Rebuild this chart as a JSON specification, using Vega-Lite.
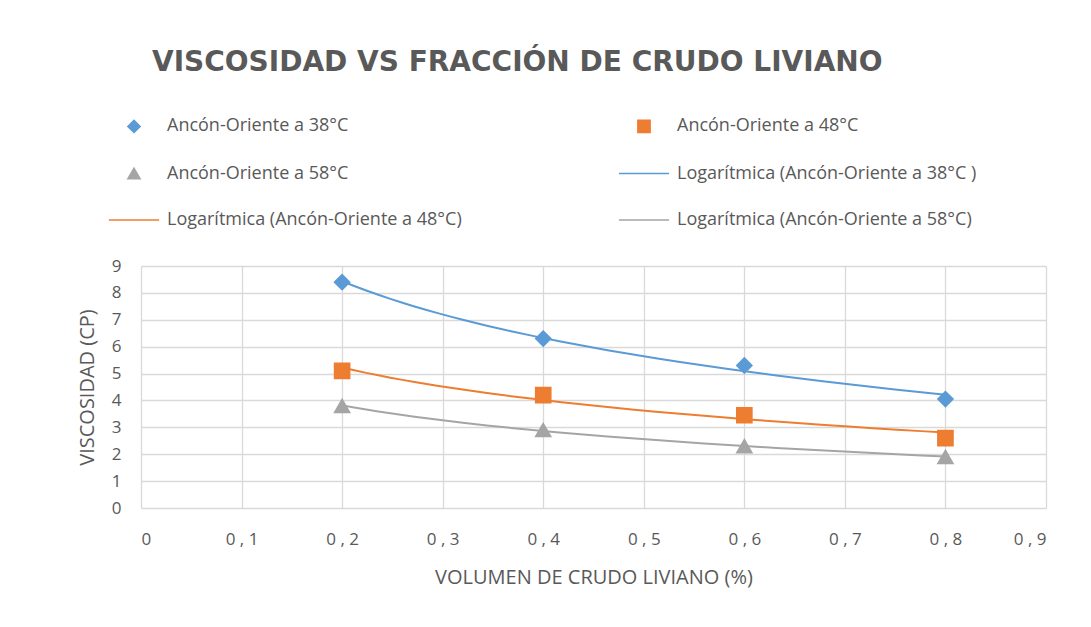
{
  "$schema": "https://vega.github.io/schema/vega-lite/v6.json",
  "width": 905,
  "height": 242,
  "autosize": {"type": "none"},
  "padding": {"left": 141, "top": 266, "right": 45, "bottom": 119},
  "background": "white",
  "title": {
    "text": "VISCOSIDAD VS FRACCIÓN DE CRUDO LIVIANO",
    "anchor": "start",
    "frame": "group",
    "dx": 11,
    "offset": 40,
    "font": "DejaVu Sans",
    "fontSize": 28,
    "fontWeight": "bold",
    "color": "#595959"
  },
  "data": {
    "values": [
      {"x": 0.2, "y": 8.4, "serie": "Ancón-Oriente a 38°C", "trend": "Logarítmica (Ancón-Oriente a 38°C  )"},
      {"x": 0.4, "y": 6.3, "serie": "Ancón-Oriente a 38°C", "trend": "Logarítmica (Ancón-Oriente a 38°C  )"},
      {"x": 0.6, "y": 5.3, "serie": "Ancón-Oriente a 38°C", "trend": "Logarítmica (Ancón-Oriente a 38°C  )"},
      {"x": 0.8, "y": 4.05, "serie": "Ancón-Oriente a 38°C", "trend": "Logarítmica (Ancón-Oriente a 38°C  )"},
      {"x": 0.2, "y": 5.1, "serie": "Ancón-Oriente a 48°C", "trend": "Logarítmica (Ancón-Oriente a 48°C)"},
      {"x": 0.4, "y": 4.2, "serie": "Ancón-Oriente a 48°C", "trend": "Logarítmica (Ancón-Oriente a 48°C)"},
      {"x": 0.6, "y": 3.45, "serie": "Ancón-Oriente a 48°C", "trend": "Logarítmica (Ancón-Oriente a 48°C)"},
      {"x": 0.8, "y": 2.6, "serie": "Ancón-Oriente a 48°C", "trend": "Logarítmica (Ancón-Oriente a 48°C)"},
      {"x": 0.2, "y": 3.8, "serie": "Ancón-Oriente a 58°C", "trend": "Logarítmica (Ancón-Oriente a 58°C)"},
      {"x": 0.4, "y": 2.9, "serie": "Ancón-Oriente a 58°C", "trend": "Logarítmica (Ancón-Oriente a 58°C)"},
      {"x": 0.6, "y": 2.3, "serie": "Ancón-Oriente a 58°C", "trend": "Logarítmica (Ancón-Oriente a 58°C)"},
      {"x": 0.8, "y": 1.9, "serie": "Ancón-Oriente a 58°C", "trend": "Logarítmica (Ancón-Oriente a 58°C)"}
    ]
  },
  "encoding": {
    "x": {
      "field": "x",
      "type": "quantitative",
      "scale": {"domain": [0, 0.9], "nice": false},
      "axis": {
        "values": [0, 0.1, 0.2, 0.3, 0.4, 0.5, 0.6, 0.7, 0.8, 0.9],
        "labelExpr": "datum.value == 0 ? '0' : replace(format(datum.value, '.1f'), '.', ' , ')",
        "title": "VOLUMEN DE CRUDO LIVIANO (%)",
        "labelPadding": 23,
        "titlePadding": 20
      }
    },
    "y": {
      "field": "y",
      "type": "quantitative",
      "scale": {"domain": [0, 9], "nice": false},
      "axis": {
        "values": [0, 1, 2, 3, 4, 5, 6, 7, 8, 9],
        "title": "VISCOSIDAD (CP)",
        "labelPadding": 20,
        "titlePadding": 14
      }
    }
  },
  "layer": [
    {
      "transform": [
        {"regression": "y", "on": "x", "groupby": ["trend"], "method": "log", "extent": [0.2, 0.8]}
      ],
      "mark": {"type": "line", "strokeWidth": 2},
      "encoding": {
        "color": {
          "field": "trend",
          "type": "nominal",
          "scale": {
            "domain": ["Ancón-Oriente a 38°C", "Ancón-Oriente a 48°C", "Ancón-Oriente a 58°C", "Logarítmica (Ancón-Oriente a 38°C  )", "Logarítmica (Ancón-Oriente a 48°C)", "Logarítmica (Ancón-Oriente a 58°C)"],
            "range": ["#5B9BD5", "#ED7D31", "#A5A5A5", "#5B9BD5", "#ED7D31", "#A5A5A5"]
          }
        }
      }
    },
    {
      "mark": {"type": "point", "filled": true, "opacity": 1, "strokeWidth": 1.5, "size": 230},
      "encoding": {
        "color": {
          "field": "serie",
          "type": "nominal",
          "scale": {
            "domain": ["Ancón-Oriente a 38°C", "Ancón-Oriente a 48°C", "Ancón-Oriente a 58°C", "Logarítmica (Ancón-Oriente a 38°C  )", "Logarítmica (Ancón-Oriente a 48°C)", "Logarítmica (Ancón-Oriente a 58°C)"],
            "range": ["#5B9BD5", "#ED7D31", "#A5A5A5", "#5B9BD5", "#ED7D31", "#A5A5A5"]
          }
        },
        "stroke": {
          "field": "serie",
          "type": "nominal",
          "scale": {
            "domain": ["Ancón-Oriente a 38°C", "Ancón-Oriente a 48°C", "Ancón-Oriente a 58°C", "Logarítmica (Ancón-Oriente a 38°C  )", "Logarítmica (Ancón-Oriente a 48°C)", "Logarítmica (Ancón-Oriente a 58°C)"],
            "range": ["#5B9BD5", "#ED7D31", "#A5A5A5", "#5B9BD5", "#ED7D31", "#A5A5A5"]
          }
        },
        "shape": {
          "field": "serie",
          "type": "nominal",
          "scale": {
            "domain": ["Ancón-Oriente a 38°C", "Ancón-Oriente a 48°C", "Ancón-Oriente a 58°C", "Logarítmica (Ancón-Oriente a 38°C  )", "Logarítmica (Ancón-Oriente a 48°C)", "Logarítmica (Ancón-Oriente a 58°C)"],
            "range": ["diamond", "square", "triangle-up", "M-4.1,0H4.1", "M-4.1,0H4.1", "M-4.1,0H4.1"]
          }
        }
      }
    }
  ],
  "config": {
    "view": {"stroke": null},
    "font": "Open Sans",
    "axis": {
      "grid": true,
      "gridColor": "#d9d9d9",
      "gridWidth": 1.3,
      "domain": false,
      "ticks": false,
      "labelFont": "Open Sans",
      "labelFontSize": 17,
      "labelColor": "#595959",
      "titleFont": "Open Sans",
      "titleFontSize": 20,
      "titleFontWeight": "normal",
      "titleColor": "#595959"
    },
    "legend": {
      "title": null,
      "orient": "none",
      "legendX": -16,
      "legendY": -149,
      "direction": "horizontal",
      "columns": 2,
      "columnPadding": 153,
      "rowPadding": 28.5,
      "labelFont": "Open Sans",
      "labelFontSize": 18,
      "labelColor": "#595959",
      "labelLimit": 600,
      "labelOffset": 24,
      "symbolSize": 150,
      "symbolStrokeWidth": 1.5,
      "symbolOpacity": 1
    }
  }
}
